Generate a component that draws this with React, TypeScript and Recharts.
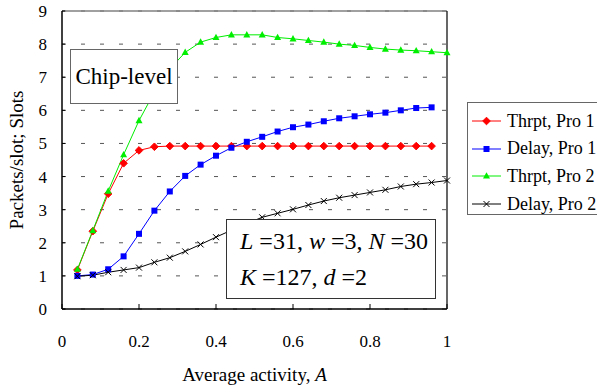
import { LineChart, Line, XAxis, YAxis, CartesianGrid, ReferenceLine } from "recharts";

const activity = [0.04, 0.08, 0.12, 0.16, 0.2, 0.24, 0.28, 0.32, 0.36, 0.4, 0.44, 0.48, 0.52, 0.56, 0.6, 0.64, 0.68, 0.72, 0.76, 0.8, 0.84, 0.88, 0.92, 0.96, 1.0];
const thrptPro1 = [1.18, 2.35, 3.48, 4.4, 4.79, 4.9, 4.92, 4.92, 4.92, 4.92, 4.92, 4.92, 4.92, 4.92, 4.92, 4.92, 4.92, 4.92, 4.92, 4.92, 4.92, 4.92, 4.92, 4.92, null];
const delayPro1 = [1.0, 1.04, 1.2, 1.59, 2.27, 2.97, 3.55, 4.02, 4.36, 4.63, 4.87, 5.05, 5.2, 5.36, 5.49, 5.57, 5.67, 5.76, 5.82, 5.88, 5.93, 6.0, 6.07, 6.09, null];
const thrptPro2 = [1.2, 2.37, 3.56, 4.66, 5.69, 6.55, 7.25, 7.75, 8.06, 8.2, 8.28, 8.28, 8.28, 8.2, 8.16, 8.11, 8.06, 8.0, 7.96, 7.9, 7.85, 7.82, 7.8, 7.77, 7.74];
const delayPro2 = [0.99, 1.02, 1.11, 1.18, 1.25, 1.41, 1.55, 1.74, 1.95, 2.17, 2.38, 2.58, 2.77, 2.89, 3.01, 3.14, 3.26, 3.36, 3.44, 3.52, 3.6, 3.7, 3.77, 3.82, 3.88];

const xTicks = [0, 0.2, 0.4, 0.6, 0.8, 1];
const yTicks = [0, 1, 2, 3, 4, 5, 6, 7, 8, 9];

const data = activity.map((a, i) => ({
  a,
  thrptPro1: thrptPro1[i],
  delayPro1: delayPro1[i],
  thrptPro2: thrptPro2[i],
  delayPro2: delayPro2[i],
}));

const series = [
  { key: "thrptPro1", name: "Thrpt, Pro 1", color: "#FF0000", shape: "diamond" },
  { key: "delayPro1", name: "Delay, Pro 1", color: "#0000FF", shape: "square" },
  { key: "thrptPro2", name: "Thrpt, Pro 2", color: "#00EE00", shape: "triangle" },
  { key: "delayPro2", name: "Delay, Pro 2", color: "#000000", shape: "cross" },
];

const FONT = "Liberation Serif, DejaVu Serif, serif";

function Marker({ cx, cy, shape, color }: { cx: number; cy: number; shape: string; color: string }) {
  if (shape === "diamond")
    return <polygon points={`${cx},${cy - 3.8} ${cx + 3.8},${cy} ${cx},${cy + 3.8} ${cx - 3.8},${cy}`} fill={color} stroke={color} strokeWidth={1} strokeLinejoin="round" />;
  if (shape === "square") return <rect x={cx - 3} y={cy - 3} width={6} height={6} fill={color} />;
  if (shape === "triangle")
    return <polygon points={`${cx},${cy - 3.8} ${cx + 3.5},${cy + 2.6} ${cx - 3.5},${cy + 2.6}`} fill={color} />;
  return (
    <g stroke={color} strokeWidth={1}>
      <line x1={cx - 3} y1={cy - 3} x2={cx + 3} y2={cy + 3} />
      <line x1={cx - 3} y1={cy + 3} x2={cx + 3} y2={cy - 3} />
    </g>
  );
}

export default function App() {
  return (
    <div style={{ position: "relative", width: 597, height: 392, background: "#fff", fontFamily: FONT, overflow: "hidden" }}>
      <style>{`body{margin:0}`}</style>
      <LineChart width={597} height={392} data={data} margin={{ top: 11, right: 150, left: 0, bottom: 0 }} style={{ fontFamily: FONT }}>
        <CartesianGrid vertical={false} stroke="#555" strokeDasharray="4 15" />
        <XAxis
          dataKey="a"
          type="number"
          domain={[0, 1]}
          ticks={xTicks}
          height={83}
          axisLine={{ stroke: "#000", strokeWidth: 1.5 }}
          tickLine={{ stroke: "#000" }}
          tickSize={-5}
          tickMargin={31}
          tick={{ fontSize: 17, fill: "#000", fontFamily: FONT }}
        />
        <YAxis
          type="number"
          domain={[0, 9]}
          ticks={yTicks}
          width={62}
          axisLine={{ stroke: "#000", strokeWidth: 1.5 }}
          tickLine={{ stroke: "#000" }}
          tickSize={-3}
          tickMargin={18}
          tick={{ fontSize: 17, fill: "#000", fontFamily: FONT }}
        />
        <ReferenceLine y={9} stroke="#808080" strokeWidth={1.5} />
        <ReferenceLine x={1} stroke="#000" strokeWidth={1.2} />
        {series.map((s) => (
          <Line
            key={s.key}
            dataKey={s.key}
            name={s.name}
            stroke={s.color}
            strokeWidth={1}
            isAnimationActive={false}
            dot={(p: any) =>
              p.cx == null || p.cy == null || p.value == null ? (
                <g key={p.key} />
              ) : (
                <g key={p.key}>
                  <Marker cx={p.cx} cy={p.cy} shape={s.shape} color={s.color} />
                </g>
              )
            }
            activeDot={false}
          />
        ))}
      </LineChart>

      {/* axis titles */}
      <div style={{ position: "absolute", left: 17, top: 160, transform: "translate(-50%, -50%) rotate(-90deg)", fontSize: 19, whiteSpace: "nowrap" }}>
        Packets/slot; Slots
      </div>
      <div style={{ position: "absolute", left: 254.5, top: 375, transform: "translate(-50%, -50%)", fontSize: 19, whiteSpace: "nowrap" }}>
        Average activity, <i>A</i>
      </div>

      {/* annotation boxes */}
      <div style={{ position: "absolute", left: 70, top: 49, width: 108, height: 55, boxSizing: "border-box", border: "1.5px solid #666", background: "#fff", display: "flex", alignItems: "center", justifyContent: "center", fontSize: 23 }}>
        Chip-level
      </div>
      <div style={{ position: "absolute", left: 226, top: 219, width: 210, height: 80, boxSizing: "border-box", border: "1.2px solid #333", background: "#fff", fontSize: 24, lineHeight: "36px", paddingLeft: 13, paddingTop: 2.5, whiteSpace: "nowrap" }}>
        <div><i>L</i> =31, <i>w</i> =3, <i>N</i> =30</div>
        <div><i>K</i> =127, <i>d</i> =2</div>
      </div>

      {/* legend */}
      <div style={{ position: "absolute", left: 467, top: 102, width: 150, height: 113, boxSizing: "border-box", border: "1.2px solid #666", background: "#fff" }}>
        {series.map((s, i) => (
          <div key={s.key} style={{ position: "absolute", left: 4, top: 4 + i * 27.7, height: 28, display: "flex", alignItems: "center", fontSize: 18, whiteSpace: "nowrap" }}>
            <svg width={30} height={12} style={{ marginRight: 5 }}>
              <line x1={0} y1={6} x2={29} y2={6} stroke={s.color} strokeWidth={1} />
              <Marker cx={14.5} cy={6} shape={s.shape} color={s.color} />
            </svg>
            {s.name}
          </div>
        ))}
      </div>
    </div>
  );
}
